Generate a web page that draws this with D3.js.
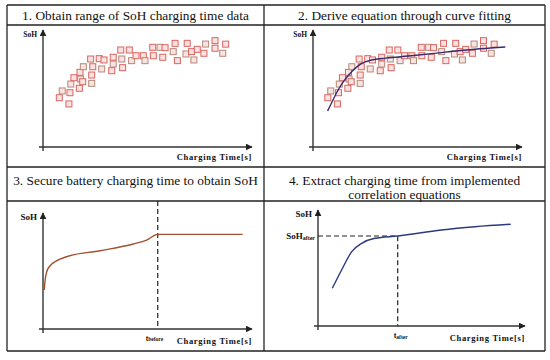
<!DOCTYPE html>
<html>
<head>
<meta charset="utf-8">
<script src="https://cdn.jsdelivr.net/npm/d3@7"></script>
<style>
  body { margin: 0; background: #fff; }
  svg { display: block; }
</style>
</head>
<body>
<div class="chart"></div>
<script>
const width = 550
const height = 360

// titles of the four cells
const titles = [
    ["1. Obtain range of SoH charging time data"],
    ["2. Derive equation through curve fitting"],
    ["3. Secure battery charging time to obtain SoH"],
    ["4. Extract charging time from implemented", "correlation equations"]
]

// measured SoH vs charging time (relative units 0-100)
const dataX = [7.8, 9.2, 12.4, 12.9, 13.3, 14.8, 17.4, 18.0, 17.7, 19.0, 19.3, 22.8, 23.3, 23.3, 23.8, 26.9,
    28.1, 29.2, 32.9, 33.6, 33.6, 37.2, 37.7, 38.1, 41.3, 42.4, 44.5, 48.0, 48.8, 52.5, 52.8, 56.0,
    57.3, 58.4, 62.3, 63.2, 64.3, 68.4, 69.0, 71.1, 72.2, 73.8, 77.0, 77.8, 82.3, 82.3, 86.0, 87.4]
const dataY = [42.1, 47.9, 36.8, 46.4, 53.8, 59.2, 50.2, 58.1, 63.8, 55.8, 68.6, 75.2, 61.5, 54.4, 68.6, 75.5,
    66.7, 74.4, 65.2, 70.9, 76.7, 82.9, 75.2, 67.8, 82.9, 73.8, 78.0, 78.0, 73.8, 85.2, 78.0, 85.2,
    76.7, 84.9, 81.5, 88.6, 73.8, 79.5, 88.6, 81.5, 74.4, 83.5, 80.1, 88.0, 90.9, 84.4, 80.1, 87.9]

// fitted curve (panel 2)
const fitX = [7, 9.5, 12, 15, 18.5, 21, 23.3, 28, 35, 45.6, 58, 69.5, 80, 92]
const fitY = [30.8, 40, 48.7, 57, 64.4, 68.5, 71.5, 74.4, 76, 77.8, 80, 82.3, 84, 85.5]

// SoH curve limited by charging time (panel 3)
const secureX = [0.6, 1, 1.8, 3.3, 6.6, 11.3, 27.3, 43.2, 49.6, 54.9, 95.5]
const secureY = [33.6, 42, 49.4, 54.3, 58.9, 62.3, 67.5, 73.3, 76.7, 81.6, 81.6]
const tBefore = 54.9

// correlation curve (panel 4)
const extractX = [6.9, 11.4, 16.3, 21.1, 27.5, 38.5, 59.6, 75.8, 93.1]
const extractY = [32.5, 48.3, 64.1, 71.3, 75.6, 77.6, 82.8, 85.6, 87.7]
const tAfter = 38.5
const sohAfter = 77.6

// table layout
const tableLeft = 7, tableRight = 545, colSplit = 264
const rowLines = [5, 25, 167, 201, 351]

const svg = d3.select('.chart')
    .append('svg')
    .attr('width', width)
    .attr('height', height)

const serif = "'Liberation Serif', 'Noto Serif', 'DejaVu Serif', 'Times New Roman', serif"

// plot area of each cell: origin, end of x arrow, top of y arrow
const panels = [
    { ox: 43, oy: 147, xEnd: 252, yTop: 30 },
    { ox: 313, oy: 147, xEnd: 522, yTop: 30 },
    { ox: 43, oy: 329, xEnd: 252, yTop: 213 },
    { ox: 318, oy: 326, xEnd: 525, yTop: 210 }
]
panels.forEach(p => {
    p.x = d3.scaleLinear().domain([0, 100]).range([p.ox, p.xEnd])
    p.y = d3.scaleLinear().domain([0, 100]).range([p.oy, p.yTop])
})

svg.append('defs').append('marker')
    .attr('id', 'arrow')
    .attr('viewBox', '0 0 10 10')
    .attr('refX', 9).attr('refY', 5)
    .attr('markerWidth', 7).attr('markerHeight', 7)
    .attr('markerUnits', 'userSpaceOnUse')
    .attr('orient', 'auto')
    .append('path')
    .attr('d', 'M0,0 L10,5 L0,10 z')
    .attr('fill', '#222')

// titles
const titlePos = [
    { cx: (tableLeft + colSplit) / 2, y: 20 },
    { cx: (colSplit + tableRight) / 2, y: 20 },
    { cx: (tableLeft + colSplit) / 2, y: 185 },
    { cx: (colSplit + tableRight) / 2, y: 184.5 }
]
const titleTexts = []
titles.forEach((lines, i) => {
    lines.forEach((t, j) => {
        titleTexts.push(svg.append('text')
            .attr('x', titlePos[i].cx)
            .attr('y', titlePos[i].y + j * 14)
            .attr('text-anchor', 'middle')
            .attr('font-family', serif)
            .attr('font-size', 14)
            .attr('fill', '#111')
            .text(t))
    })
})
// fit the title font so that the first title is as wide as in the figure
const w1 = titleTexts[0].node().getComputedTextLength()
const titleSize = Math.min(14.5, 14 * 227 / w1)
titleTexts.forEach(t => t.attr('font-size', titleSize))

// axes and labels
panels.forEach((p, i) => {
    const g = svg.append('g')
    g.append('line')
        .attr('x1', p.ox - 4).attr('y1', p.oy)
        .attr('x2', p.xEnd).attr('y2', p.oy)
        .attr('stroke', '#333').attr('stroke-width', 1.4)
        .attr('marker-end', 'url(#arrow)')
    g.append('line')
        .attr('x1', p.ox).attr('y1', p.oy + 4)
        .attr('x2', p.ox).attr('y2', p.yTop)
        .attr('stroke', '#333').attr('stroke-width', 1.4)
        .attr('marker-end', 'url(#arrow)')
    g.append('text')
        .attr('x', p.ox - 6).attr('y', p.yTop + 7)
        .attr('text-anchor', 'end')
        .attr('font-family', serif)
        .attr('font-weight', 'bold')
        .attr('font-size', i < 2 ? 7.5 : 9)
        .attr('fill', '#111')
        .text('SoH')
    g.append('text')
        .attr('x', p.xEnd).attr('y', p.oy + (i < 2 ? 13 : 15))
        .attr('text-anchor', 'end')
        .attr('font-family', serif)
        .attr('font-weight', 'bold')
        .attr('font-size', 8.5)
        .attr('letter-spacing', 0.7)
        .attr('fill', '#111')
        .text('Charging Time[s]')
})

// scatter data (panels 1 and 2)
const pts = d3.zip(dataX, dataY)
;[0, 1].forEach(i => {
    const p = panels[i]
    const dx = i === 1 ? -1.5 : 0
    svg.append('g')
        .selectAll('rect')
        .data(pts)
        .join('rect')
        .attr('x', d => p.x(d[0]) - 3 + dx)
        .attr('y', d => p.y(d[1]) - 3)
        .attr('width', 6)
        .attr('height', 6)
        .attr('fill', '#fbe2e2')
        .attr('stroke', (d, k) => k % 3 === 1 ? '#b08a78' : '#d9655f')
        .attr('stroke-width', 1)
})

const line = (p) => d3.line()
    .x(d => p.x(d[0]))
    .y(d => p.y(d[1]))
    .curve(d3.curveMonotoneX)

// fitted curve
svg.append('path')
    .datum(d3.zip(fitX, fitY))
    .attr('d', line(panels[1]))
    .attr('fill', 'none')
    .attr('stroke', '#3a2a6e')
    .attr('stroke-width', 1.4)

// panel 3
const p3 = panels[2]
svg.append('line')
    .attr('x1', p3.x(tBefore)).attr('x2', p3.x(tBefore))
    .attr('y1', rowLines[3]).attr('y2', p3.oy)
    .attr('stroke', '#222').attr('stroke-width', 1.2)
    .attr('stroke-dasharray', '5,3')
svg.append('path')
    .datum(d3.zip(secureX, secureY))
    .attr('d', line(p3))
    .attr('fill', 'none')
    .attr('stroke', '#a4502f')
    .attr('stroke-width', 1.4)
const tb = svg.append('text')
    .attr('x', p3.x(tBefore) - 12).attr('y', p3.oy + 12)
    .attr('font-family', serif)
    .attr('font-weight', 'bold')
    .attr('font-size', 7.5)
    .attr('fill', '#111')
tb.append('tspan').text('t')
tb.append('tspan').attr('font-size', 5.5).text('before')

// panel 4
const p4 = panels[3]
svg.append('path')
    .attr('d', `M${p4.ox},${p4.y(sohAfter)} H${p4.x(tAfter)} V${p4.oy}`)
    .attr('fill', 'none')
    .attr('stroke', '#222').attr('stroke-width', 1.2)
    .attr('stroke-dasharray', '5,3')
svg.append('path')
    .datum(d3.zip(extractX, extractY))
    .attr('d', line(p4))
    .attr('fill', 'none')
    .attr('stroke', '#2c3a7e')
    .attr('stroke-width', 1.4)
const sa = svg.append('text')
    .attr('x', p4.ox - 3).attr('y', p4.y(sohAfter) + 3)
    .attr('text-anchor', 'end')
    .attr('font-family', serif)
    .attr('font-weight', 'bold')
    .attr('font-size', 9)
    .attr('fill', '#111')
sa.append('tspan').text('SoH')
sa.append('tspan').attr('font-size', 6).attr('dy', 1).text('after')
const ta = svg.append('text')
    .attr('x', p4.x(tAfter) - 4).attr('y', p4.oy + 12)
    .attr('font-family', serif)
    .attr('font-weight', 'bold')
    .attr('font-size', 8)
    .attr('fill', '#111')
ta.append('tspan').text('t')
ta.append('tspan').attr('font-size', 5.5).attr('dy', 1).text('after')

// table grid
const grid = svg.append('g')
    .attr('stroke', '#222')
    .attr('stroke-width', 1.3)
rowLines.forEach(y => {
    grid.append('line').attr('x1', tableLeft).attr('x2', tableRight).attr('y1', y).attr('y2', y)
})
;[tableLeft, colSplit, tableRight].forEach(x => {
    grid.append('line').attr('x1', x).attr('x2', x).attr('y1', rowLines[0]).attr('y2', rowLines[4])
})
</script>
</body>
</html>
